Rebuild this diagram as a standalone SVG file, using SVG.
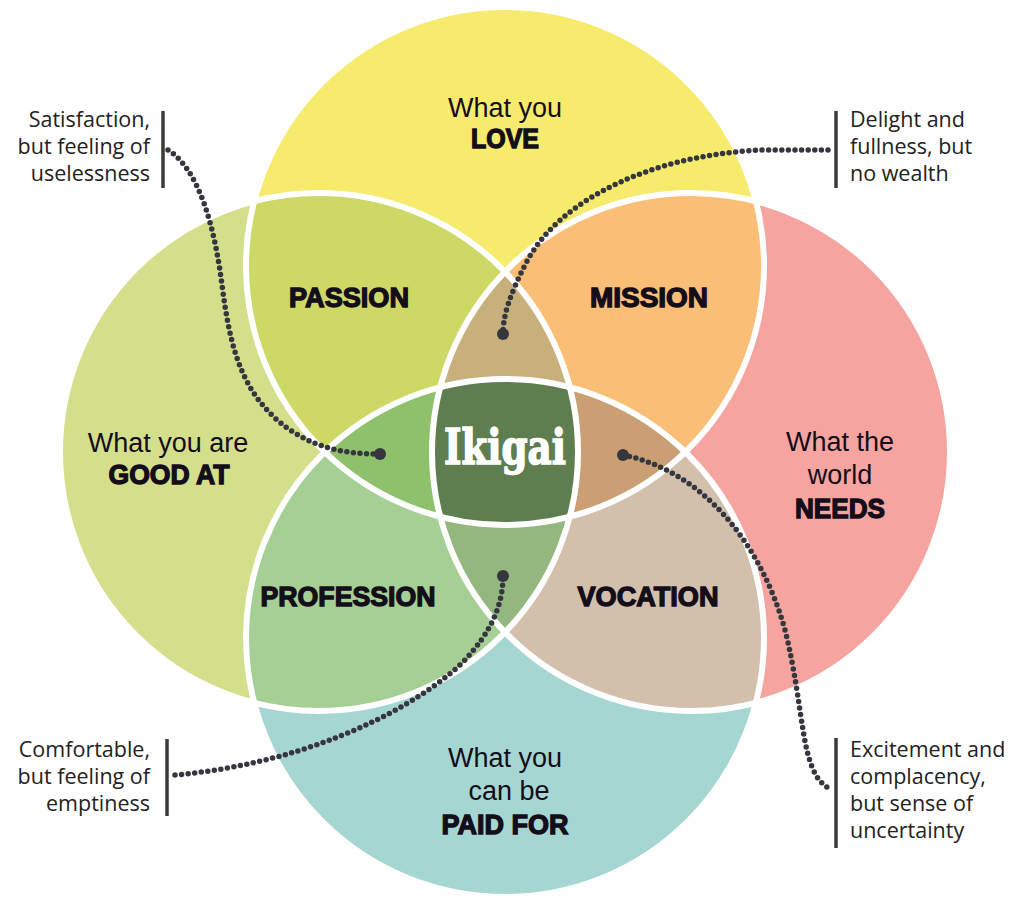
<svg xmlns="http://www.w3.org/2000/svg" width="1011" height="899" viewBox="0 0 1011 899">
<style>
.reg{font-family:"Liberation Sans",Arial,sans-serif;font-size:27px;fill:#140d1a;text-anchor:middle}
.bold{font-family:"Liberation Sans",Arial,sans-serif;font-size:27px;font-weight:bold;fill:#140d1a;stroke:#140d1a;stroke-width:1.3;text-anchor:middle}
.note{font-family:"Open Sans","Noto Sans",sans-serif;font-size:21.5px;fill:#222222}
.end{text-anchor:end}
.bar{stroke:#3a3a3a;stroke-width:3.5}
.dots{fill:none;stroke:#36363e;stroke-width:5.5;stroke-linecap:round;stroke-dasharray:0 6.6}
.dot{fill:#36363e}
.edge{fill:none;stroke:#ffffff;stroke-width:6}
</style>
<defs>
<circle id="T" cx="505" cy="266" r="259"/>
<circle id="L" cx="319" cy="452" r="259"/>
<circle id="R" cx="691" cy="452" r="259"/>
<circle id="B" cx="505" cy="638" r="259"/>
<clipPath id="cT"><use href="#T"/></clipPath>
<clipPath id="cL"><use href="#L"/></clipPath>
<clipPath id="cR"><use href="#R"/></clipPath>
<clipPath id="cB"><use href="#B"/></clipPath>
</defs>
<rect width="1011" height="899" fill="#ffffff"/>
<g id="circles">
<use href="#T" fill="#f6eb6c"/>
<use href="#L" fill="#d3df8a"/>
<use href="#R" fill="#f6a4a0"/>
<use href="#B" fill="#a6d6d1"/>
</g>
<g id="overlaps">
<g clip-path="url(#cT)"><use href="#L" fill="#cdd865"/></g>
<g clip-path="url(#cT)"><use href="#R" fill="#fbbe76"/></g>
<g clip-path="url(#cB)"><use href="#L" fill="#a5cf95"/></g>
<g clip-path="url(#cB)"><use href="#R" fill="#d2bfac"/></g>
<g clip-path="url(#cT)"><g clip-path="url(#cL)"><use href="#R" fill="#c8b07c"/></g></g>
<g clip-path="url(#cT)"><g clip-path="url(#cL)"><use href="#B" fill="#8fc16c"/></g></g>
<g clip-path="url(#cT)"><g clip-path="url(#cR)"><use href="#B" fill="#cb9f74"/></g></g>
<g clip-path="url(#cL)"><g clip-path="url(#cR)"><use href="#B" fill="#94b77f"/></g></g>
<g clip-path="url(#cT)"><g clip-path="url(#cL)"><g clip-path="url(#cR)"><use href="#B" fill="#5e7e50"/></g></g></g>
</g>
<g id="edges">
<use href="#T" class="edge"/>
<use href="#L" class="edge"/>
<use href="#R" class="edge"/>
<use href="#B" class="edge"/>
</g>
<g id="love"><text class="reg" x="505" y="117">What you</text><text class="bold" x="505" y="148" textLength="68" lengthAdjust="spacingAndGlyphs">LOVE</text></g>
<g id="good-at"><text class="reg" x="168" y="452">What you are</text><text class="bold" x="169" y="484" textLength="121" lengthAdjust="spacingAndGlyphs">GOOD AT</text></g>
<g id="needs"><text class="reg" x="840" y="451">What the</text><text class="reg" x="840" y="484">world</text><text class="bold" x="840" y="518" textLength="90" lengthAdjust="spacingAndGlyphs">NEEDS</text></g>
<g id="paid-for"><text class="reg" x="505" y="767">What you</text><text class="reg" x="509" y="800">can be</text><text class="bold" x="505" y="834" textLength="127" lengthAdjust="spacingAndGlyphs">PAID FOR</text></g>
<g id="passion"><text class="bold" x="349" y="307" textLength="120" lengthAdjust="spacingAndGlyphs">PASSION</text></g>
<g id="mission"><text class="bold" x="649" y="307" textLength="118" lengthAdjust="spacingAndGlyphs">MISSION</text></g>
<g id="profession"><text class="bold" x="348" y="606" textLength="175" lengthAdjust="spacingAndGlyphs">PROFESSION</text></g>
<g id="vocation"><text class="bold" x="648" y="606" textLength="141" lengthAdjust="spacingAndGlyphs">VOCATION</text></g>
<g id="ikigai"><text x="505" y="464" font-family="'DejaVu Serif','Liberation Serif',serif" font-weight="bold" font-size="48" fill="#ffffff" stroke="#ffffff" stroke-width="1.6" text-anchor="middle" textLength="122" lengthAdjust="spacingAndGlyphs">Ikigai</text></g>
<g id="note-satisfaction"><line class="bar" x1="163" y1="111" x2="163" y2="188"/><text class="note end" x="150" y="127">Satisfaction,</text><text class="note end" x="150" y="154">but feeling of</text><text class="note end" x="150" y="181">uselessness</text></g>
<g id="note-delight"><line class="bar" x1="836" y1="111" x2="836" y2="188"/><text class="note" x="850" y="127">Delight and</text><text class="note" x="850" y="154">fullness, but</text><text class="note" x="850" y="181">no wealth</text></g>
<g id="note-comfortable"><line class="bar" x1="167" y1="739" x2="167" y2="816"/><text class="note end" x="150" y="757">Comfortable,</text><text class="note end" x="150" y="784">but feeling of</text><text class="note end" x="150" y="811">emptiness</text></g>
<g id="note-excitement"><line class="bar" x1="836" y1="738" x2="836" y2="848"/><text class="note" x="850" y="757">Excitement and</text><text class="note" x="850" y="784">complacency,</text><text class="note" x="850" y="811">but sense of</text><text class="note" x="850" y="838">uncertainty</text></g>
<g id="connectors">
<path class="dots" d="M168,150 C200,170 215,230 222,285 C230,345 240,395 290,430 C320,450 350,454 380,454"/>
<circle class="dot" cx="380" cy="454" r="6"/>
<path class="dots" d="M828,150 H760 C660,155 560,195 525,265 C510,295 503,315 503,334"/>
<circle class="dot" cx="503" cy="334" r="6"/>
<path class="dots" d="M175,775 C290,765 400,720 460,665 C495,630 503,600 503,576"/>
<circle class="dot" cx="503" cy="576" r="6"/>
<path class="dots" d="M623,455 C700,470 760,540 785,630 C805,710 800,770 827,787"/>
<circle class="dot" cx="623" cy="455" r="6"/>
</g>
</svg>
